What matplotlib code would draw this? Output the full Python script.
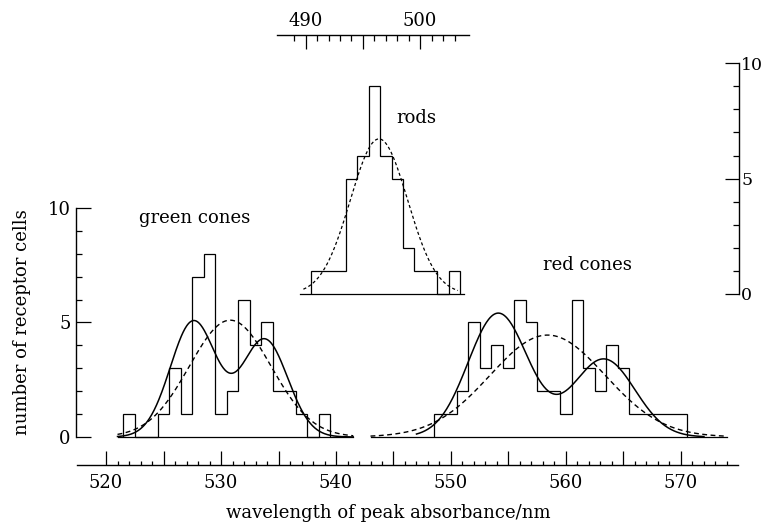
import numpy as np
import matplotlib.pyplot as plt
from matplotlib.ticker import FixedLocator, FuncFormatter

plt.rcParams['font.family'] = 'DejaVu Serif'
plt.rcParams['font.size'] = 13

# counts per 1 nm bin (bin centres)
green_nm = list(range(522, 540))
green_n = [1, 0, 0, 1, 3, 1, 7, 8, 1, 2, 6, 4, 5, 2, 2, 1, 0, 1]
red_nm = list(range(549, 571))
red_n = [1, 1, 2, 5, 3, 4, 3, 6, 5, 2, 2, 1, 6, 3, 2, 4, 3, 1, 1, 1, 1, 1]
rod_nm = list(range(491, 504))
rod_n = [1, 1, 1, 5, 6, 9, 6, 5, 2, 1, 1, 0, 1]

# fitted gaussians: (peak height, centre nm, sd nm)
green_one = [(5.1, 530.8, 3.55)]
green_two = [(5.05, 527.6, 2.0), (4.25, 533.8, 2.0)]
red_one = [(4.45, 558.4, 5.0)]
red_two = [(5.4, 554.1, 2.6), (3.4, 563.3, 2.7)]
rod_one = [(6.72, 496.4, 2.5)]

# extent of each drawn curve / baseline (nm)
green_span = (521.0, 541.5)
red_span = (543.0, 574.0)
red_solid_span = (547.0, 572.0)
rod_span = (489.5, 503.8)


def gauss(parts, lo, hi):
    x = np.linspace(lo, hi, 400)
    y = np.zeros_like(x)
    for a, m, s in parts:
        y += a * np.exp(-0.5 * ((x - m) / s) ** 2)
    return x, y


def edges(nm):
    return np.append(np.array(nm) - 0.5, nm[-1] + 0.5)


dash = (0, (3.5, 2.5))
fig = plt.figure(figsize=(7.64, 5.27), dpi=100)

# cones: bottom wavelength axis, left count axis
ax = fig.add_axes([0, 0, 1, 1])
ax.set_xlim(510.78, 577.22)
ax.set_ylim(-3.93, 19.08)
ax.patch.set_visible(False)
ax.spines['top'].set_visible(False)
ax.spines['right'].set_visible(False)
ax.spines['left'].set_position(('data', 517.39))
ax.spines['left'].set_bounds(0, 10)
ax.spines['bottom'].set_position(('data', -1.223))
ax.spines['bottom'].set_bounds(517.5, 575)
for s in ['left', 'bottom']:
    ax.spines[s].set_linewidth(1.0)
ax.xaxis.set_major_locator(FixedLocator(range(520, 575, 5)))
ax.xaxis.set_minor_locator(FixedLocator(range(520, 575)))
ax.xaxis.set_major_formatter(FuncFormatter(lambda v, p: f'{v:.0f}' if v % 10 == 0 else ''))
ax.yaxis.set_major_locator(FixedLocator([0, 5, 10]))
ax.yaxis.set_minor_locator(FixedLocator(range(0, 11)))
ax.tick_params(axis='x', which='major', direction='in', length=10, width=0.9, pad=6.5)
ax.tick_params(axis='x', which='minor', direction='in', length=3.2, width=0.9)
ax.tick_params(axis='y', which='major', direction='in', length=11, width=0.9, pad=4)
ax.tick_params(axis='y', which='minor', direction='in', length=4.3, width=0.9)

ax.stairs(green_n, edges(green_nm), baseline=0, color='k', lw=0.9)
ax.stairs(red_n, edges(red_nm), baseline=0, color='k', lw=0.9)
ax.plot(green_span, [0, 0], color='k', lw=0.9)
ax.plot(red_span, [0, 0], color='k', lw=0.9)
ax.plot(*gauss(green_two, *green_span), color='k', lw=1.1)
ax.plot(*gauss(green_one, *green_span), color='k', lw=1.0, ls=dash)
ax.plot(*gauss(red_two, *red_solid_span), color='k', lw=1.1)
ax.plot(*gauss(red_one, *red_span), color='k', lw=1.0, ls=dash)

ax.text(527.7, 9.56, 'green cones', ha='center', va='center')
ax.text(561.9, 7.51, 'red cones', ha='center', va='center')

ax.set_xlabel('wavelength of peak absorbance/nm')
ax.xaxis.set_label_coords(388 / 764, (527 - 504) / 527)
ax.set_ylabel('number of receptor cells')
ax.yaxis.set_label_coords(31 / 764, (527 - 322) / 527)

# rods: top wavelength axis, right count axis
ax2 = fig.add_axes([0, 0, 1, 1])
ax2.patch.set_visible(False)
ax2.set_xlim(463.3, 530.03)
ax2.set_ylim(-10.1, 12.74)
ax2.spines['left'].set_visible(False)
ax2.spines['bottom'].set_visible(False)
ax2.spines['top'].set_position(('data', 11.227))
ax2.spines['top'].set_bounds(487.5, 504.3)
ax2.spines['right'].set_position(('data', 527.87))
ax2.spines['right'].set_bounds(0, 10)
for s in ['top', 'right']:
    ax2.spines[s].set_linewidth(1.0)
ax2.xaxis.set_ticks_position('top')
ax2.yaxis.set_ticks_position('right')
ax2.xaxis.set_major_locator(FixedLocator([490, 495, 500]))
ax2.xaxis.set_minor_locator(FixedLocator(range(489, 504)))
ax2.xaxis.set_major_formatter(FuncFormatter(lambda v, p: f'{v:.0f}' if v % 10 == 0 else ''))
ax2.yaxis.set_major_locator(FixedLocator([0, 5, 10]))
ax2.yaxis.set_minor_locator(FixedLocator(range(0, 11)))
ax2.tick_params(axis='x', which='major', direction='in', length=10, width=0.9, pad=3.5)
ax2.tick_params(axis='x', which='minor', direction='in', length=4.5, width=0.9)
ax2.tick_params(axis='y', which='major', direction='in', length=10, width=0.9, pad=1.5,
                labelsize=12.5)
ax2.tick_params(axis='y', which='minor', direction='in', length=4.3, width=0.9)

ax2.stairs(rod_n, edges(rod_nm), baseline=0, color='k', lw=0.9)
ax2.plot(rod_span, [0, 0], color='k', lw=0.9)
ax2.plot(*gauss(rod_one, 489.8, 503.3), color='k', lw=0.9, ls=(0, (2.5, 2)))
ax2.text(499.7, 7.63, 'rods', ha='center', va='center')

fig.savefig('out.png', dpi=100)
